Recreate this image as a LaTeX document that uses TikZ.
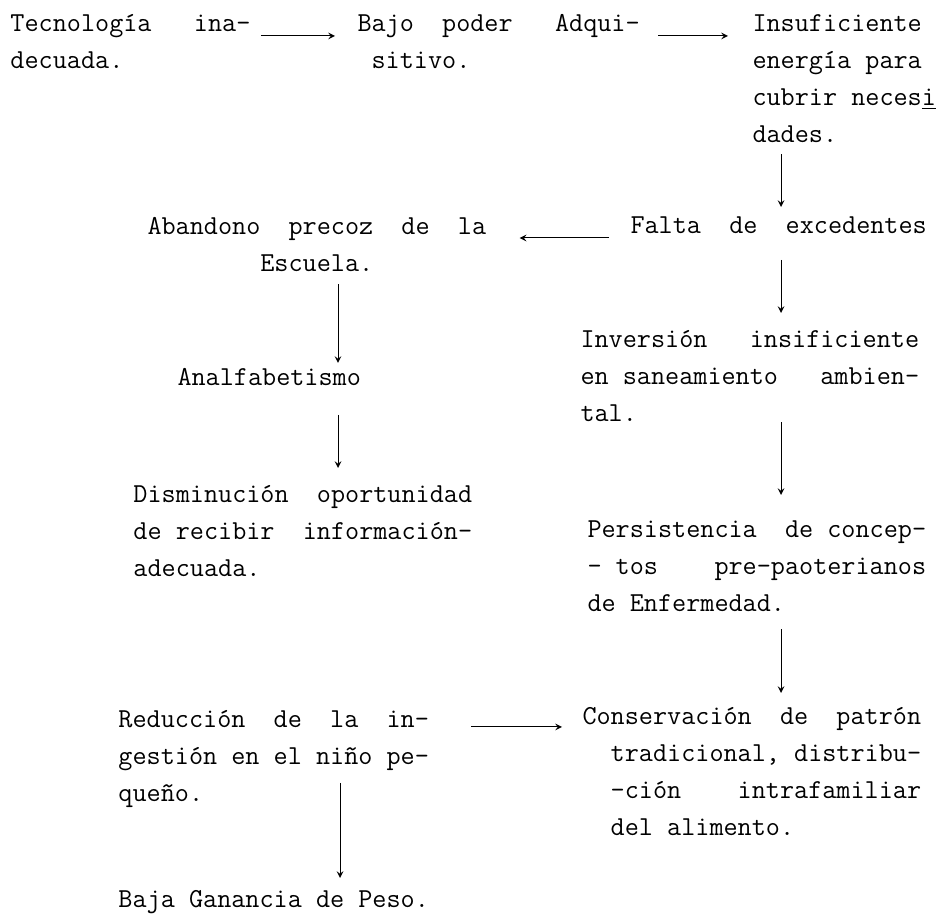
\documentclass[tikz,border=0pt]{standalone}
\usepackage{tikz}
\usetikzlibrary{positioning,arrows,calc}

\tikzstyle{tw}=[%
      rectangle, draw=none, fill=none, align=left, anchor=north west,
      inner sep=0pt, font=\fontsize{13.7}{18.5}\selectfont\ttfamily
]

\begin{document}
\begin{tikzpicture}[x=0.5pt, y=-0.5pt,
    ->,
    >=stealth,
    line width=0.5pt,
]
    \useasboundingbox (0,0) rectangle (944,914);

    \node[tw] (tec)     at (10,5)    {\strut Tecnología~~~ina-\\decuada.};
    \node[tw] (bajo)    at (357,5)   {\strut Bajo~~poder~~~Adqui-\\\phantom{x}sitivo.};
    \node[tw] (ins)     at (752,5)   {\strut Insuficiente\\energía~para\\cubrir~neces\underline{i}\\dades.};
    \node[tw] (falta)   at (630,207) {\strut Falta~~de~~excedentes};
    \node[tw] (aband)   at (147,208) {\strut Abandono~~precoz~~de~~la\\\phantom{xxxxxxxx}Escuela.};
    \node[tw] (inver)   at (580,321) {\strut Inversión~~~insificiente\\en~saneamiento~~~ambien-\\tal.};
    \node[tw] (analf)   at (177,359) {\strut Analfabetismo};
    \node[tw] (dismin)  at (133,476) {\strut Disminución~~oportunidad\\de~recibir~~información-\\adecuada.};
    \node[tw] (persis)  at (587,511) {\strut Persistencia~~de~concep-\\-~tos~~~~pre-paoterianos\\de~Enfermedad.};
    \node[tw] (reduc)   at (118,701) {\strut Reducción~~de~~la~~in-\\gestión~en~el~niño~pe-\\queño.};
    \node[tw] (conserv) at (582,698) {\strut Conservación~~de~~patrón\\\phantom{xx}tradicional,~distribu-\\\phantom{xx}-ción~~~~intrafamiliar\\\phantom{xx}del~alimento.};
    \node[tw] (baja)    at (118,881) {\strut Baja~Ganancia~de~Peso.};

    \coordinate (xl) at (338,0);
    \coordinate (xr) at (781,0);
    \coordinate (xb) at (340,0);

    % horizontal arrows
    \draw ($(tec.north east)+(10,31)$) -- ($(bajo.north west)+(-22,31)$);
    \draw ($(bajo.north east)+(18,31)$) -- ($(ins.north west)+(-24,31)$);
    \draw ($(falta.north west)+(-21,31)$) -- ($(aband.north east)+(33,30)$);
    \draw ($(reduc.north east)+(42,26)$) -- ($(conserv.north west)+(-20,29)$);

    % vertical arrows
    \draw ($(ins.south -| xr)+(0,11)$) -- (falta.north -| xr);
    \draw ($(aband.south -| xl)+(0,12)$) -- ($(analf.north -| xl)+(0,4)$);
    \draw ($(analf.south -| xl)+(0,18)$) -- ($(dismin.north -| xl)+(0,-8)$);
    \draw ($(falta.south -| xr)+(0,15)$) -- ($(inver.north -| xr)+(0,-8)$);
    \draw (inver.south -| xr) -- ($(persis.north -| xr)+(0,-16)$);
    \draw ($(persis.south -| xr)+(0,17)$) -- ($(conserv.north -| xr)+(0,-5)$);
    \draw ($(reduc.south -| xb)+(0,-25)$) -- ($(baja.north -| xb)+(0,-3)$);
\end{tikzpicture}
\end{document}
